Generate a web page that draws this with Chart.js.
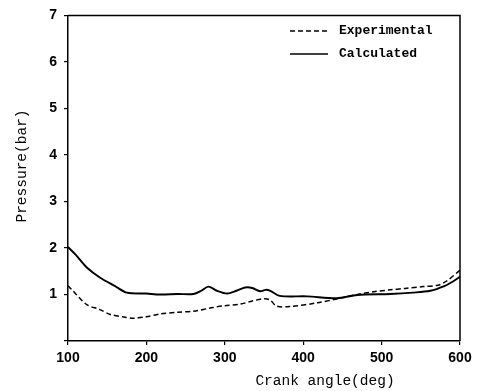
<!DOCTYPE html>
<html>
<head>
<meta charset="utf-8">
<script src="https://cdn.jsdelivr.net/npm/chart.js@4/dist/chart.umd.min.js"></script>
<style>
  body { margin: 0; background: #fff; }
  #grafica { display: block; }
</style>
</head>
<body>
<canvas id="grafica" width="479" height="391"></canvas>
<script>
// angulo de manivela (deg) y presion (bar)
const calcAngle = [100, 110, 124, 141, 160, 175, 200, 217, 240, 260, 270, 279, 290, 303, 315, 326, 335, 345, 352, 358, 370, 405, 443, 469, 511, 540, 562, 580, 591, 600];
const calcPress = [2.02, 1.85, 1.58, 1.36, 1.18, 1.04, 1.02, 1.00, 1.01, 1.01, 1.08, 1.17, 1.08, 1.02, 1.08, 1.15, 1.14, 1.07, 1.10, 1.08, 0.97, 0.96, 0.92, 0.99, 1.01, 1.04, 1.08, 1.18, 1.28, 1.38];

const expAngle = [100, 105, 124, 140, 154, 170, 183, 200, 217, 240, 260, 285, 300, 319, 335, 351, 358, 366, 383, 418, 447, 469, 490, 511, 530, 553, 572, 583, 600];
const expPress = [1.19, 1.10, 0.78, 0.68, 0.57, 0.52, 0.49, 0.52, 0.58, 0.62, 0.64, 0.72, 0.76, 0.79, 0.86, 0.91, 0.88, 0.75, 0.74, 0.82, 0.92, 1.00, 1.06, 1.10, 1.13, 1.17, 1.20, 1.29, 1.52];

const xTicks = [100, 200, 300, 400, 500, 600];
const yTicks = [1, 2, 3, 4, 5, 6, 7];

const etiquetas = ['Experimental', 'Calculated'];

function puntos(xs, ys) {
    return xs.map((x, i) => ({ x: x, y: ys[i] }));
}

// marco, titulos de ejes y leyenda
const marco = {
    id: 'marco',
    afterDraw(chart) {
        const ctx = chart.ctx;
        const a = chart.chartArea;
        ctx.save();
        ctx.strokeStyle = '#000';
        ctx.lineWidth = 1.5;
        ctx.beginPath();
        ctx.moveTo(a.left, a.top);
        ctx.lineTo(a.right, a.top);
        ctx.lineTo(a.right, a.bottom);
        ctx.stroke();

        ctx.fillStyle = '#000';
        ctx.font = '14.5px "Liberation Mono"';
        ctx.textAlign = 'center';
        ctx.textBaseline = 'middle';
        ctx.fillText('Crank angle(deg)', 325, 381);

        ctx.translate(22, 166);
        ctx.rotate(-Math.PI / 2);
        ctx.fillText('Pressure(bar)', 0, 0);
        ctx.restore();

        // leyenda
        ctx.save();
        ctx.strokeStyle = '#000';
        ctx.lineWidth = 1.4;
        ctx.beginPath();
        ctx.setLineDash([5, 3]);
        ctx.moveTo(290, 31);
        ctx.lineTo(327, 31);
        ctx.stroke();
        ctx.setLineDash([]);
        ctx.beginPath();
        ctx.moveTo(290, 54);
        ctx.lineTo(328, 54);
        ctx.stroke();
        ctx.fillStyle = '#000';
        ctx.font = 'bold 13px "Liberation Mono"';
        ctx.textAlign = 'left';
        ctx.textBaseline = 'middle';
        ctx.fillText(etiquetas[0], 339, 31);
        ctx.fillText(etiquetas[1], 339, 54);
        ctx.restore();
    }
};

const config = {
    type: 'line',
    data: {
        datasets: [
            {
                label: etiquetas[0],
                data: puntos(expAngle, expPress),
                borderColor: '#000',
                borderWidth: 1.5,
                borderDash: [5, 3],
                pointRadius: 0,
                fill: false,
                tension: 0.3
            },
            {
                label: etiquetas[1],
                data: puntos(calcAngle, calcPress),
                borderColor: '#000',
                borderWidth: 1.9,
                pointRadius: 0,
                fill: false,
                tension: 0.3
            }
        ]
    },
    options: {
        responsive: false,
        animation: false,
        layout: { padding: { left: 20, right: 19, top: 10, bottom: 0 } },
        plugins: {
            legend: { display: false },
            tooltip: { enabled: false }
        },
        scales: {
            x: {
                type: 'linear',
                min: 100,
                max: 600,
                afterFit: s => { s.height = 50; },
                afterBuildTicks: s => { s.ticks = xTicks.map(v => ({ value: v })); },
                grid: { display: true, drawOnChartArea: false, drawTicks: true, tickLength: 4, color: '#000', lineWidth: 1.2 },
                border: { display: true, color: '#000', width: 1.5 },
                ticks: {
                    color: '#000',
                    padding: 5,
                    maxRotation: 0,
                    font: { family: '"Liberation Sans"', size: 14, weight: 'bold' }
                }
            },
            y: {
                min: 0,
                max: 7,
                afterFit: s => { s.width = 48; },
                afterBuildTicks: s => { s.ticks = [0].concat(yTicks).map(v => ({ value: v })); },
                grid: { display: true, drawOnChartArea: false, drawTicks: true, tickLength: 4, color: '#000', lineWidth: 1.2 },
                border: { display: true, color: '#000', width: 1.5 },
                ticks: {
                    color: '#000',
                    padding: 7,
                    callback: v => (v === 0 ? '' : v),
                    font: { family: '"Liberation Sans"', size: 14, weight: 'bold' }
                }
            }
        }
    },
    plugins: [marco]
};

new Chart(document.getElementById('grafica'), config);
</script>
</body>
</html>
